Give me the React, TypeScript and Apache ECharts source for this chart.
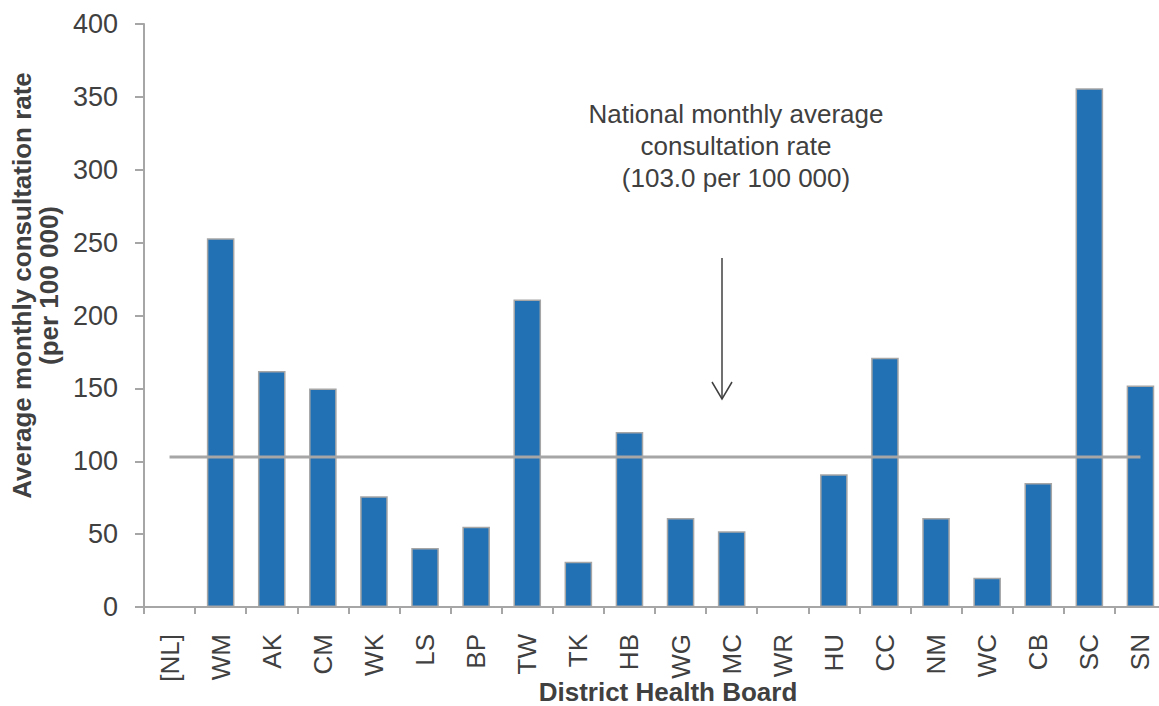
import React, { useEffect, useRef } from "react";
import * as echarts from "echarts";

const categories = ["[NL]", "WM", "AK", "CM", "WK", "LS", "BP", "TW", "TK", "HB", "WG", "MC", "WR", "HU", "CC", "NM", "WC", "CB", "SC", "SN"];
const rates: (number | null)[] = [null, 253, 162, 150, 76, 40.5, 55, 211, 31, 120, 61, 52, null, 91, 171, 61, 20, 85, 356, 152];
const nationalAverage = 103;
const yTicks = { min: 0, max: 400, interval: 50 };
const annotationLines = ["National monthly average", "consultation rate", "(103.0 per 100 000)"];

const FONT = "'Liberation Sans', Arial, Helvetica, sans-serif";
const TEXT = "#404040";
const AXIS = "#a6a6a6";

export default function App() {
  const ref = useRef<HTMLDivElement>(null);
  useEffect(() => {
    if (!ref.current) return;
    const chart = echarts.init(ref.current, undefined, { renderer: "svg" });
    chart.setOption({
      animation: false,
      backgroundColor: "#ffffff",
      textStyle: { fontFamily: FONT },
      grid: { left: 144, top: 24, width: 1022, height: 583, containLabel: false, outerBoundsMode: "none" },
      xAxis: {
        type: "category",
        data: categories,
        boundaryGap: true,
        axisLine: { show: true, lineStyle: { color: AXIS, width: 2 } },
        axisTick: { show: true, length: 7, lineStyle: { color: AXIS, width: 2 } },
        axisLabel: { rotate: 90, fontSize: 26, color: TEXT, margin: 27, fontFamily: FONT, interval: 0 },
        name: "District Health Board",
        nameLocation: "middle",
        nameGap: 73,
        nameMoveOverlap: false,
        nameTextStyle: { fontSize: 26, lineHeight: 24, fontWeight: "bold", color: TEXT, fontFamily: FONT, padding: [0, 0, 0, 26] },
      },
      yAxis: {
        type: "value",
        min: yTicks.min,
        max: yTicks.max,
        interval: yTicks.interval,
        axisLine: { show: true, lineStyle: { color: AXIS, width: 2 } },
        axisTick: { show: true, length: 9, lineStyle: { color: AXIS, width: 2 } },
        splitLine: { show: false },
        axisLabel: { fontSize: 27, color: TEXT, margin: 26, fontFamily: FONT },
        name: "Average monthly consultation rate\n(per 100 000)",
        nameLocation: "middle",
        nameRotate: 90,
        nameGap: 82,
        nameMoveOverlap: false,
        nameTextStyle: { fontSize: 26, fontWeight: "bold", color: TEXT, fontFamily: FONT, lineHeight: 27, padding: [0, 0, 0, 60] },
      },
      series: [
        {
          type: "bar",
          data: rates,
          barWidth: "54%",
          itemStyle: { color: "#2271b4", borderColor: AXIS, borderWidth: 1.5 },
          z: 2,
        },
        {
          type: "line",
          data: categories.map(() => nationalAverage),
          symbol: "none",
          lineStyle: { color: AXIS, width: 3 },
          z: 3,
        },
      ],
      graphic: [
        {
          type: "text",
          x: 736,
          y: 146,
          style: {
            text: annotationLines.join("\n"),
            fontSize: 26,
            lineHeight: 32,
            fill: TEXT,
            fontFamily: FONT,
            align: "center",
            verticalAlign: "middle",
          },
        },
        {
          type: "line",
          shape: { x1: 722, y1: 258, x2: 722, y2: 399 },
          style: { stroke: TEXT, lineWidth: 1.5 },
        },
        {
          type: "polyline",
          shape: { points: [[712, 382], [722, 399], [732, 382]] },
          style: { stroke: TEXT, lineWidth: 1.5, fill: null },
        },
      ],
    });
    return () => chart.dispose();
  }, []);
  return <div ref={ref} style={{ position: "fixed", left: 0, top: 0, width: 1159, height: 706 }} />;
}
